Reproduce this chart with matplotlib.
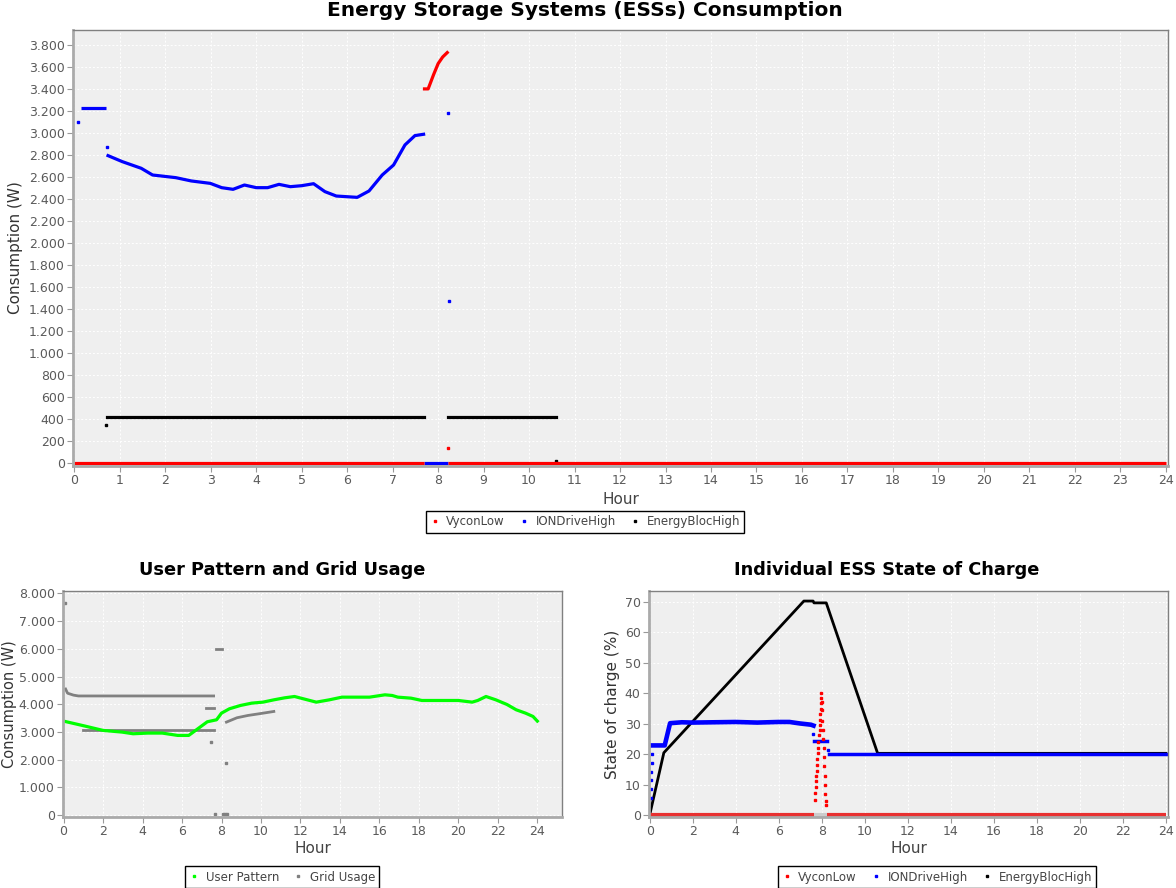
"""
Recreation of the ESS consumption / user pattern / state of charge charts.
"""

from matplotlib import pyplot as plt
from matplotlib.lines import Line2D
from matplotlib.ticker import FuncFormatter
import numpy as np

# ---- top chart: Energy Storage Systems (ESSs) Consumption ----
ion_flat_h = [0.15, 0.70]
ion_flat_w = [3230, 3230]
ion_curve_h = [0.74, 1.05, 1.47, 1.72, 2.23, 2.57, 2.99, 3.24, 3.49, 3.74, 4.0,
               4.25, 4.5, 4.75, 5.0, 5.26, 5.51, 5.76, 6.22, 6.48, 6.77, 7.02,
               7.27, 7.49, 7.68]
ion_curve_w = [2794, 2740, 2679, 2618, 2594, 2564, 2542, 2503, 2488, 2527, 2503,
               2503, 2533, 2512, 2521, 2539, 2467, 2427, 2415, 2473, 2618, 2709,
               2891, 2976, 2988]
ion_dots_h = [0.08, 0.72, 8.22, 8.23]
ion_dots_w = [3100, 2870, 3180, 1470]
ion_zero_h = [7.68, 8.22]

vycon_peak_h = [7.70, 7.78, 7.90, 8.00, 8.10, 8.20]
vycon_peak_w = [3400, 3400, 3530, 3630, 3690, 3730]
vycon_dots_h = [8.22]
vycon_dots_w = [140]
vycon_zero_a = [0.0, 7.68]
vycon_zero_b = [8.22, 24.0]

bloc_seg1_h = [0.72, 7.68]
bloc_seg2_h = [8.22, 10.60]
bloc_level = 420
bloc_dots_h = [0.70, 10.60]
bloc_dots_w = [345, 20]

# ---- bottom left: User Pattern and Grid Usage ----
user_h = [0.0, 1.09, 2.0, 2.96, 3.52, 4.27, 5.0, 5.78, 6.34, 6.8, 7.28, 7.75,
          8.0, 8.4, 8.96, 9.53, 10.1, 10.65, 11.2, 11.7, 12.15, 12.8, 13.46,
          14.1, 15.5, 16.28, 16.65, 16.93, 17.6, 18.15, 18.9, 19.46, 20.0,
          20.7, 20.98, 21.4, 21.9, 22.46, 22.93, 23.4, 23.78, 24.0]
user_w = [3393, 3213, 3057, 2997, 2937, 2961, 2961, 2877, 2877, 3117, 3369, 3441,
          3681, 3837, 3957, 4041, 4077, 4160, 4233, 4281, 4197, 4077, 4160,
          4257, 4257, 4341, 4317, 4257, 4221, 4137, 4137, 4137, 4137,
          4077, 4137, 4281, 4160, 3993, 3801, 3681, 3561, 3393]

grid_high_h = [0.10, 0.20, 0.50, 0.75, 7.60]
grid_high_w = [4550, 4400, 4330, 4300, 4300]
grid_low_h = [1.0, 7.60]
grid_low_w = [3060, 3060]
grid_mid_h = [7.20, 7.60]
grid_mid_w = [3850, 3850]
grid_top_h = [7.70, 8.00]
grid_top_w = [6000, 6000]
grid_rise_h = [8.25, 8.78, 9.34, 9.90, 10.65]
grid_rise_w = [3357, 3513, 3597, 3657, 3741]
grid_dots_h = [0.08, 7.45, 7.65, 8.10, 8.20, 8.30, 8.25]
grid_dots_w = [7650, 2650, 40, 40, 40, 40, 1870]

# ---- bottom right: Individual ESS State of Charge ----
soc_bloc_h = [0.0, 0.66, 7.17, 7.60, 7.64, 8.21, 10.60, 24.0]
soc_bloc_p = [0.0, 20.5, 70.3, 70.3, 69.7, 69.7, 20.3, 20.3]

soc_ion_rise_h = [0.05, 0.06, 0.07, 0.08, 0.09, 0.10]
soc_ion_rise_p = [5.5, 8.5, 11.5, 14.3, 17.2, 20.0]
soc_ion_h = [0.10, 0.70, 0.95, 1.5, 2.0, 3.0, 4.0, 5.0, 6.0, 6.5, 7.0, 7.5, 7.62]
soc_ion_p = [22.9, 22.9, 30.2, 30.5, 30.4, 30.5, 30.6, 30.4, 30.6, 30.6, 30.1, 29.7, 29.4]
soc_ion_mid_h = [7.62, 8.25]
soc_ion_mid_p = [24.2, 24.2]
soc_ion_end_h = [8.32, 24.0]
soc_ion_end_p = [20.0, 20.0]
soc_ion_dots_h = [7.60, 8.28]
soc_ion_dots_p = [26.8, 21.5]

soc_vycon_h = [7.67, 7.70, 7.72, 7.74, 7.75, 7.77, 7.78, 7.80, 7.81, 7.83, 7.85,
               7.88, 7.90, 7.91, 7.92, 7.94, 7.95, 7.95, 7.97, 7.98,
               8.00, 8.01, 8.03, 8.05, 8.07, 8.09, 8.10, 8.12, 8.14, 8.15,
               8.17, 8.19, 8.20]
soc_vycon_p = [4.9, 7.2, 9.1, 11.1, 12.9, 14.6, 16.5, 18.5, 20.4, 22.2, 24.1,
               26.4, 28.1, 29.6, 31.3, 33.1, 34.9, 36.9, 38.5, 40.1,
               37.0, 34.6, 31.0, 28.0, 25.0, 22.0, 19.0, 16.0, 13.0, 10.0,
               7.0, 4.5, 3.3]
soc_vycon_zero_a = [0.0, 7.65]
soc_vycon_zero_b = [8.25, 24.0]

RED = '#ff0000'
BLUE = '#0000ff'
BLACK = '#000000'
GREEN = '#00ff00'
GREY = '#808080'
BG = '#efefef'
TICK_COL = '#5a5a5a'
DOT = 1.8


def dot_fmt(v, pos):
    return f"{int(round(v)):,}".replace(',', '.')


def style_axes(ax):
    ax.set_facecolor(BG)
    for side in ['top', 'right']:
        ax.spines[side].set_color(GREY)
        ax.spines[side].set_linewidth(1.0)
    for side in ['left', 'bottom']:
        ax.spines[side].set_linewidth(2.0)
        ax.spines[side].set_color('#aaaaaa')
    ax.grid(True, color='white', linestyle=(0, (2, 2)), linewidth=0.7)
    ax.set_axisbelow(True)
    ax.tick_params(colors='#999999', labelcolor=TICK_COL, labelsize=9,
                   length=4, width=0.8, direction='out', pad=2)


def legend_handle(color, label):
    return Line2D([], [], color=color, marker='s', markersize=1.8,
                  linestyle='none', label=label)


def make_legend(fig, handles, x, y):
    leg = fig.legend(handles=handles, loc='center', bbox_to_anchor=(x, y),
                     ncol=len(handles), fontsize=8.5, frameon=True,
                     fancybox=False, edgecolor='black', framealpha=1,
                     handlelength=0.8, handletextpad=0.6, columnspacing=1.2,
                     borderpad=0.35)
    leg.get_frame().set_linewidth(1.0)
    for t in leg.get_texts():
        t.set_color('#444444')


fig = plt.figure(figsize=(11.76, 8.88), dpi=100)

# ---------------- top chart ----------------
ax1 = fig.add_axes([73 / 1176, 1 - 466 / 888, 1095 / 1176, 436 / 888])
style_axes(ax1)
lw = 2.3
ax1.plot(ion_flat_h, ion_flat_w, color=BLUE, lw=lw, solid_capstyle='butt')
ax1.plot(ion_curve_h, ion_curve_w, color=BLUE, lw=lw)
ax1.plot(ion_dots_h, ion_dots_w, color=BLUE, marker='s', markersize=DOT, linestyle='none')
ax1.plot(ion_zero_h, [0, 0], color=BLUE, lw=lw, solid_capstyle='butt')
ax1.plot(bloc_seg1_h, [bloc_level] * 2, color=BLACK, lw=lw)
ax1.plot(bloc_seg2_h, [bloc_level] * 2, color=BLACK, lw=lw)
ax1.plot(bloc_dots_h, bloc_dots_w, color=BLACK, marker='s', markersize=DOT, linestyle='none')
ax1.plot(vycon_peak_h, vycon_peak_w, color=RED, lw=lw)
ax1.plot(vycon_dots_h, vycon_dots_w, color=RED, marker='s', markersize=DOT, linestyle='none')
ax1.plot(vycon_zero_a, [0, 0], color=RED, lw=lw, solid_capstyle='butt')
ax1.plot(vycon_zero_b, [0, 0], color=RED, lw=lw, solid_capstyle='butt')
ax1.set_xlim(-0.03, 24.05)
ax1.set_ylim(-25, 3935)
ax1.set_xticks(np.arange(0, 25, 1))
ax1.set_yticks(np.arange(0, 3801, 200))
ax1.yaxis.set_major_formatter(FuncFormatter(dot_fmt))
ax1.set_xlabel('Hour', fontsize=11, color='#444444', labelpad=3)
ax1.set_ylabel('Consumption (W)', fontsize=11, color='#333333', labelpad=4)
fig.text(585 / 1176, 1 - 11 / 888, 'Energy Storage Systems (ESSs) Consumption',
         ha='center', va='center', fontsize=14.5, fontweight='bold')
make_legend(fig, [legend_handle(RED, 'VyconLow'),
                  legend_handle(BLUE, 'IONDriveHigh'),
                  legend_handle(BLACK, 'EnergyBlocHigh')],
            585 / 1176, 1 - 522 / 888)

# ---------------- bottom left ----------------
ax2 = fig.add_axes([63 / 1176, 1 - 817 / 888, 499 / 1176, 226 / 888])
style_axes(ax2)
ax2.plot(grid_high_h, grid_high_w, color=GREY, lw=2)
ax2.plot(grid_low_h, grid_low_w, color=GREY, lw=2)
ax2.plot(grid_mid_h, grid_mid_w, color=GREY, lw=2)
ax2.plot(grid_top_h, grid_top_w, color=GREY, lw=2)
ax2.plot(grid_rise_h, grid_rise_w, color=GREY, lw=2)
ax2.plot(grid_dots_h, grid_dots_w, color=GREY, marker='s', markersize=DOT, linestyle='none')
ax2.plot(user_h, user_w, color=GREEN, lw=2.3)
ax2.set_xlim(-0.03, 25.25)
ax2.set_ylim(-65, 8085)
ax2.set_xticks(np.arange(0, 25, 2))
ax2.set_yticks(np.arange(0, 8001, 1000))
ax2.yaxis.set_major_formatter(FuncFormatter(dot_fmt))
ax2.set_xlabel('Hour', fontsize=11, color='#444444', labelpad=2)
ax2.set_ylabel('Consumption (W)', fontsize=10.5, color='#333333', labelpad=1)
fig.text(282 / 1176, 1 - 570 / 888, 'User Pattern and Grid Usage',
         ha='center', va='center', fontsize=12.8, fontweight='bold')
make_legend(fig, [legend_handle(GREEN, 'User Pattern'),
                  legend_handle(GREY, 'Grid Usage')],
            282 / 1176, 1 - 877 / 888)

# ---------------- bottom right ----------------
ax3 = fig.add_axes([649 / 1176, 1 - 817 / 888, 519 / 1176, 226 / 888])
style_axes(ax3)
ax3.plot(soc_bloc_h, soc_bloc_p, color=BLACK, lw=2)
ax3.plot(soc_ion_rise_h, soc_ion_rise_p, color=BLUE, marker='s', markersize=1.6, linestyle='none')
ax3.plot(soc_ion_h, soc_ion_p, color=BLUE, lw=3.3)
ax3.plot(soc_ion_mid_h, soc_ion_mid_p, color=BLUE, lw=2.5)
ax3.plot(soc_ion_end_h, soc_ion_end_p, color=BLUE, lw=2.5)
ax3.plot(soc_ion_dots_h, soc_ion_dots_p, color=BLUE, marker='s', markersize=1.6, linestyle='none')
ax3.plot([7.65, 8.25], [0, 0], color='#cccccc', lw=3, solid_capstyle='butt')
ax3.plot(soc_vycon_zero_a, [0, 0], color='#e83030', lw=3, solid_capstyle='butt')
ax3.plot(soc_vycon_zero_b, [0, 0], color='#e83030', lw=3, solid_capstyle='butt')
ax3.plot(soc_vycon_h, soc_vycon_p, color=RED, marker='s', markersize=1.6, linestyle='none')
ax3.set_xlim(-0.03, 24.1)
ax3.set_ylim(-0.6, 73.6)
ax3.set_xticks(np.arange(0, 25, 2))
ax3.set_yticks(np.arange(0, 71, 10))
ax3.set_xlabel('Hour', fontsize=11, color='#444444', labelpad=2)
ax3.set_ylabel('State of charge (%)', fontsize=11, color='#333333', labelpad=3)
fig.text(887 / 1176, 1 - 570 / 888, 'Individual ESS State of Charge',
         ha='center', va='center', fontsize=12.8, fontweight='bold')
make_legend(fig, [legend_handle(RED, 'VyconLow'),
                  legend_handle(BLUE, 'IONDriveHigh'),
                  legend_handle(BLACK, 'EnergyBlocHigh')],
            937 / 1176, 1 - 877 / 888)

plt.savefig('out.png', dpi=100)
